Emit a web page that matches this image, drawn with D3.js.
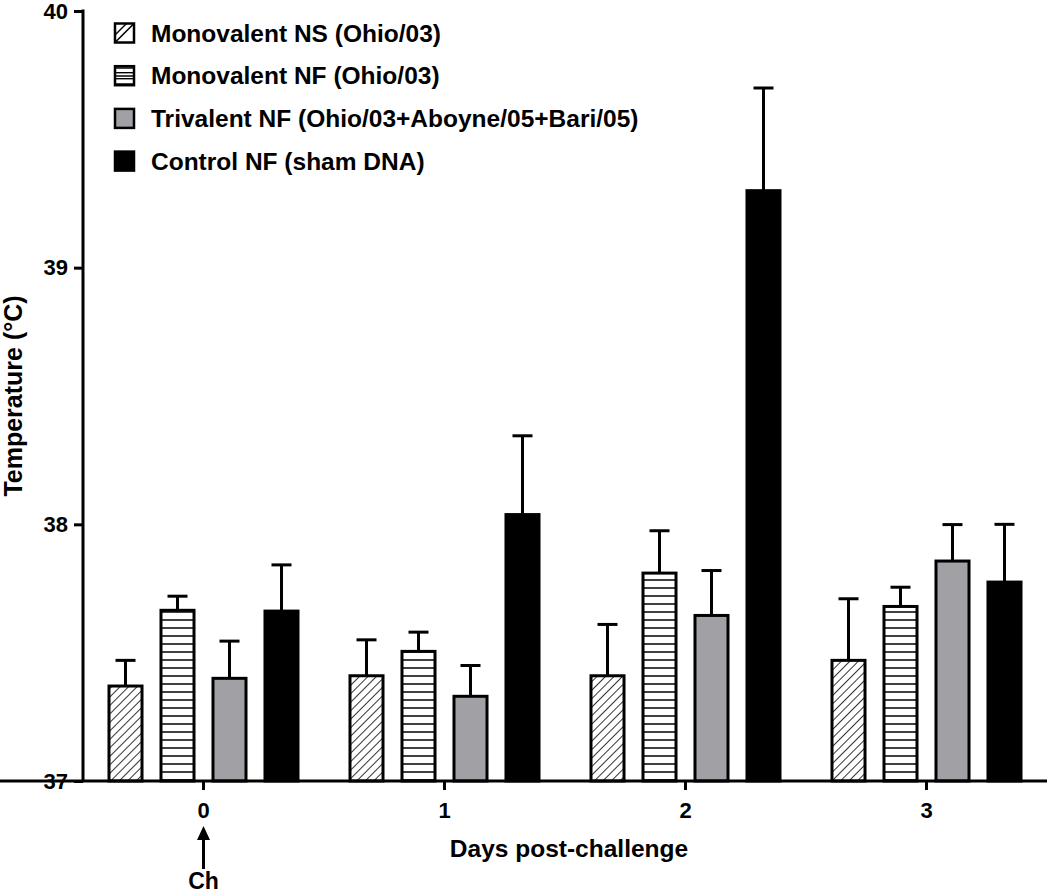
<!DOCTYPE html>
<html>
<head>
<meta charset="utf-8">
<script src="https://cdn.jsdelivr.net/npm/d3@7"></script>
<style>
  html, body { margin: 0; padding: 0; background: #fff; }
  svg text { font-family: "Liberation Sans", Arial, Helvetica, sans-serif; font-weight: bold; fill: #000; }
</style>
</head>
<body>
<svg id="chart" width="1050" height="896"></svg>
<script>
// ---- data ----
const days = ["0", "1", "2", "3"];
const seriesNames = [
  "Monovalent NS (Ohio/03)",
  "Monovalent NF (Ohio/03)",
  "Trivalent NF (Ohio/03+Aboyne/05+Bari/05)",
  "Control NF (sham DNA)"
];
const monoNS      = [37.37, 37.41, 37.41, 37.47];
const monoNSErr   = [0.10, 0.14, 0.20, 0.24];
const monoNF      = [37.665, 37.505, 37.81, 37.68];
const monoNFErr   = [0.055, 0.075, 0.165, 0.075];
const triNF       = [37.40, 37.33, 37.645, 37.857];
const triNFErr    = [0.145, 0.12, 0.175, 0.142];
const controlNF   = [37.662, 38.038, 39.30, 37.775];
const controlNFErr= [0.18, 0.307, 0.40, 0.225];
const yTicks = [37, 38, 39, 40];
const xLabel = "Days post-challenge";
const yLabel = "Temperature (°C)";
const arrowLabel = "Ch";

const means = [monoNS, monoNF, triNF, controlNF];
const errs = [monoNSErr, monoNFErr, triNFErr, controlNFErr];
const fills = ["url(#diag)", "url(#horiz)", "#a1a1a5", "#000"];

const rows = [];
days.forEach((d, i) => {
  seriesNames.forEach((s, j) => {
    rows.push({ day: d, series: s, idx: j, value: means[j][i], err: errs[j][i] });
  });
});

// ---- layout ----
const svg = d3.select("#chart");
const mLeft = 83, mRight = 1047, mTop = 11, mBottom = 781;

const x0 = d3.scaleBand().domain(days).range([mLeft, mRight]).padding(0);
const x1 = d3.scaleBand().domain(seriesNames).range([0, x0.bandwidth()])
  .paddingInner(0.365).paddingOuter(0.5);
const y = d3.scaleLinear().domain([37, 40]).range([mBottom, mTop]);

// patterns
const defs = svg.append("defs");
const pd = defs.append("pattern").attr("id", "diag")
  .attr("patternUnits", "userSpaceOnUse").attr("width", 6).attr("height", 6)
  .attr("patternTransform", "rotate(45)");
pd.append("rect").attr("width", 6).attr("height", 6).attr("fill", "#fff");
pd.append("line").attr("x1", 0).attr("y1", 0).attr("x2", 0).attr("y2", 6)
  .attr("stroke", "#000").attr("stroke-width", 1.6);
const ph = defs.append("pattern").attr("id", "horiz")
  .attr("patternUnits", "userSpaceOnUse").attr("width", 8).attr("height", 8);
ph.append("rect").attr("width", 8).attr("height", 8).attr("fill", "#fff");
ph.append("line").attr("x1", 0).attr("y1", 4).attr("x2", 8).attr("y2", 4)
  .attr("stroke", "#000").attr("stroke-width", 1.5);

// bars
const g = svg.append("g");
g.selectAll("rect.bar").data(rows).join("rect")
  .attr("class", "bar")
  .attr("x", d => x0(d.day) + x1(d.series))
  .attr("width", x1.bandwidth())
  .attr("y", d => y(d.value))
  .attr("height", d => y(37) - y(d.value))
  .attr("fill", d => fills[d.idx])
  .attr("stroke", "#000").attr("stroke-width", 3);

// error bars (upper)
const cap = 10;
const cx = d => x0(d.day) + x1(d.series) + x1.bandwidth() / 2;
g.selectAll("line.err").data(rows).join("line")
  .attr("class", "err")
  .attr("x1", cx).attr("x2", cx)
  .attr("y1", d => y(d.value))
  .attr("y2", d => y(d.value + d.err))
  .attr("stroke", "#000").attr("stroke-width", 3);
g.selectAll("line.cap").data(rows).join("line")
  .attr("class", "cap")
  .attr("x1", d => cx(d) - cap)
  .attr("x2", d => cx(d) + cap)
  .attr("y1", d => y(d.value + d.err))
  .attr("y2", d => y(d.value + d.err))
  .attr("stroke", "#000").attr("stroke-width", 3);

// axes
const yAxis = svg.append("g").attr("transform", `translate(${mLeft},0)`)
  .call(d3.axisLeft(y).tickValues(yTicks).tickFormat(d3.format("d")).tickSize(9).tickPadding(6));
const xAxis = svg.append("g").attr("transform", `translate(0,${mBottom})`)
  .call(d3.axisBottom(x0).tickSize(9).tickPadding(12));
[yAxis, xAxis].forEach(a => {
  a.attr("font-size", 22).attr("font-weight", "bold")
   .attr("font-family", '"Liberation Sans", Arial, sans-serif');
  a.select(".domain").attr("stroke", "#000").attr("stroke-width", 3);
  a.selectAll(".tick line").attr("stroke", "#000").attr("stroke-width", 3);
  a.selectAll(".tick text").style("font-size", "22px");
});
yAxis.select(".domain").attr("d", `M0,${y(40) - 1.5}V${mBottom}`);
xAxis.select(".domain").attr("d", `M0,0H${mRight}`);

// axis labels
svg.append("text").attr("x", 569).attr("y", 857).attr("text-anchor", "middle")
  .style("font-size", "24.5px").text(xLabel);
svg.append("text").attr("transform", "translate(22,396) rotate(-90)")
  .attr("text-anchor", "middle").style("font-size", "25px").text(yLabel);

// challenge arrow
const ax = x0("0") + x0.bandwidth() / 2;
svg.append("line").attr("x1", ax).attr("x2", ax).attr("y1", 869).attr("y2", 836)
  .attr("stroke", "#000").attr("stroke-width", 3);
svg.append("path").attr("d", `M${ax},826 L${ax - 6.5},840 L${ax + 6.5},840 Z`).attr("fill", "#000");
svg.append("text").attr("x", ax).attr("y", 889).attr("text-anchor", "middle")
  .style("font-size", "23px").text(arrowLabel);

// legend
const legend = svg.append("g");
seriesNames.forEach((s, j) => {
  const cy = 33 + j * 42.7;
  legend.append("rect").attr("x", 115).attr("y", cy - 9.5).attr("width", 19).attr("height", 19)
    .attr("fill", j === 0 ? "#fff" : fills[j]).attr("stroke", "#000").attr("stroke-width", 2.5);
  if (j === 0) {
    legend.append("line").attr("x1", 115).attr("y1", cy + 9.5).attr("x2", 134).attr("y2", cy - 9.5)
      .attr("stroke", "#000").attr("stroke-width", 1.6);
    legend.append("line").attr("x1", 115).attr("y1", cy + 2).attr("x2", 126.5).attr("y2", cy - 9.5)
      .attr("stroke", "#000").attr("stroke-width", 1.4);
  }
  if (j === 1) {
    [-3, 3].forEach(o => legend.append("line").attr("x1", 115).attr("x2", 134)
      .attr("y1", cy + o).attr("y2", cy + o).attr("stroke", "#000").attr("stroke-width", 1.4));
  }
  legend.append("text").attr("x", 151).attr("y", cy + 8.5).style("font-size", "24.5px").text(s);
});
</script>
</body>
</html>
